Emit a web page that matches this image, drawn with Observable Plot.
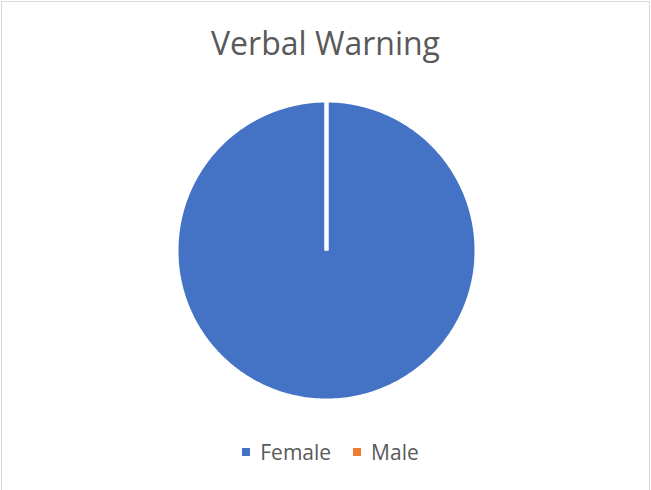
<!DOCTYPE html>
<html>
<head>
<meta charset="utf-8">
<script src="https://cdn.jsdelivr.net/npm/d3@7"></script>
<script src="https://cdn.jsdelivr.net/npm/@observablehq/plot@0.6"></script>
<style>
  html, body { margin: 0; padding: 0; background: #fff; }
  body { width: 651px; height: 490px; position: relative; overflow: hidden; font-family: "Open Sans", sans-serif; color: #595959; }
  #frame { position: absolute; left: 1px; top: 1px; width: 649px; height: 520px; border: 1px solid #d9d9d9; box-sizing: border-box; }
  #title { position: absolute; left: 0; width: 651px; top: 21px; text-align: center; font-size: 32px; line-height: 44px; }
  #chart { position: absolute; left: 176px; top: 100px; }
  #legend { position: absolute; top: 437px; left: 5px; width: 651px; display: flex; justify-content: center; font-size: 21px; line-height: 30px; }
  .item { display: flex; align-items: center; margin: 0 11px; }
  .sw { width: 8px; height: 8px; margin-right: 10px; }
</style>
</head>
<body>
<div id="frame"></div>
<div id="title">Verbal Warning</div>
<div id="chart"></div>
<div id="legend"></div>
<script>
const categories = ["Female", "Male"];
const values = [100, 0];
const colors = ["#4472C4", "#ED7D31"];

const arcs = d3.pie().sort(null)(values);
const rows = [];
arcs.forEach((a, i) => {
  const name = categories[i];
  rows.push({name, x: 0, y: 0});
  const n = Math.max(2, Math.ceil((a.endAngle - a.startAngle) / (Math.PI / 180)) + 1);
  for (let k = 0; k < n; k++) {
    const t = a.startAngle + (a.endAngle - a.startAngle) * k / (n - 1);
    rows.push({name, x: Math.sin(t), y: Math.cos(t)});
  }
  rows.push({name, x: 0, y: 0});
});

const chart = Plot.plot({
  width: 300,
  height: 300,
  margin: 0,
  x: {domain: [-1, 1], axis: null},
  y: {domain: [-1, 1], axis: null},
  color: {domain: categories, range: colors},
  marks: [
    Plot.line(rows, {x: "x", y: "y", z: "name", fill: "name", stroke: "white", strokeWidth: 4, strokeLinejoin: "miter", strokeLinecap: "butt", curve: "linear"})
  ]
});
document.getElementById("chart").appendChild(chart);

const legend = document.getElementById("legend");
categories.forEach((c, i) => {
  const item = document.createElement("div");
  item.className = "item";
  const sw = document.createElement("span");
  sw.className = "sw";
  sw.style.background = colors[i];
  const lab = document.createElement("span");
  lab.textContent = c;
  item.appendChild(sw);
  item.appendChild(lab);
  legend.appendChild(item);
});
</script>
</body>
</html>
